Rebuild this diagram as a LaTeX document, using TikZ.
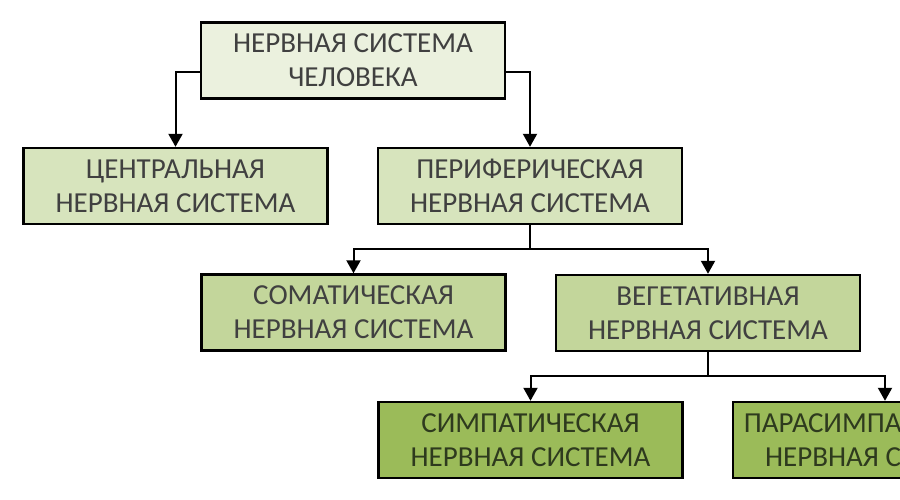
\documentclass[tikz,border=0pt]{standalone}
\usepackage{fontspec}
\setmainfont{Carlito}
\usetikzlibrary{arrows.meta}
\definecolor{lv1}{HTML}{EBF1DE}
\definecolor{lv2}{HTML}{D7E4BD}
\definecolor{lv3}{HTML}{C3D69B}
\definecolor{lv4}{HTML}{9BBB59}
\definecolor{txt}{HTML}{404040}
\definecolor{txtd}{HTML}{2E3A1E}
\tikzset{
  box/.style={draw=black, line width=2.4pt, minimum width=304pt, minimum height=76pt,
    inner sep=0pt, align=center, text=txt,
    font=\fontsize{29}{34}\selectfont},
  arr/.style={line width=2pt, -{Triangle[width=14pt,length=13pt]}},
  ln/.style={line width=2pt}
}
\begin{document}
\begin{tikzpicture}[x=1pt,y=-1pt]
\useasboundingbox (0,0) rectangle (900,500);
\fill[white] (0,0) rectangle (900,500);
\begin{scope}
\clip (0,0) rectangle (900,500);
\node[box, fill=lv1] (top) at (353,60.5) {НЕРВНАЯ СИСТЕМА\\ЧЕЛОВЕКА};
\node[box, fill=lv2] (cns) at (175.5,186) {ЦЕНТРАЛЬНАЯ\\НЕРВНАЯ СИСТЕМА};
\node[box, fill=lv2] (pns) at (530,186) {ПЕРИФЕРИЧЕСКАЯ\\НЕРВНАЯ СИСТЕМА};
\node[box, fill=lv3] (som) at (353.5,312.5) {СОМАТИЧЕСКАЯ\\НЕРВНАЯ СИСТЕМА};
\node[box, fill=lv3] (veg) at (708,313) {ВЕГЕТАТИВНАЯ\\НЕРВНАЯ СИСТЕМА};
\node[box, fill=lv4, text=txtd] (sym) at (530.5,440) {СИМПАТИЧЕСКАЯ\\НЕРВНАЯ СИСТЕМА};
\node[box, fill=lv4, text=txtd] (par) at (885,440) {ПАРАСИМПАТИЧЕСКАЯ\\НЕРВНАЯ СИСТЕМА};

\coordinate (tl) at ([yshift=-11.5pt]top.west);
\coordinate (tr) at ([yshift=-11.5pt]top.east);
\coordinate (j1) at (530,249);
\coordinate (j2) at (708,376);

\draw[arr] (tl) -| (cns.north);
\draw[arr] (tr) -| (pns.north);
\draw[ln] (pns.south) -- (j1);
\draw[arr] (j1) -| (som.north);
\draw[arr] (j1) -| (veg.north);
\draw[ln] (veg.south) -- (j2);
\draw[arr] (j2) -| (sym.north);
\draw[arr] (j2) -| (par.north);
\end{scope}
\end{tikzpicture}
\end{document}
